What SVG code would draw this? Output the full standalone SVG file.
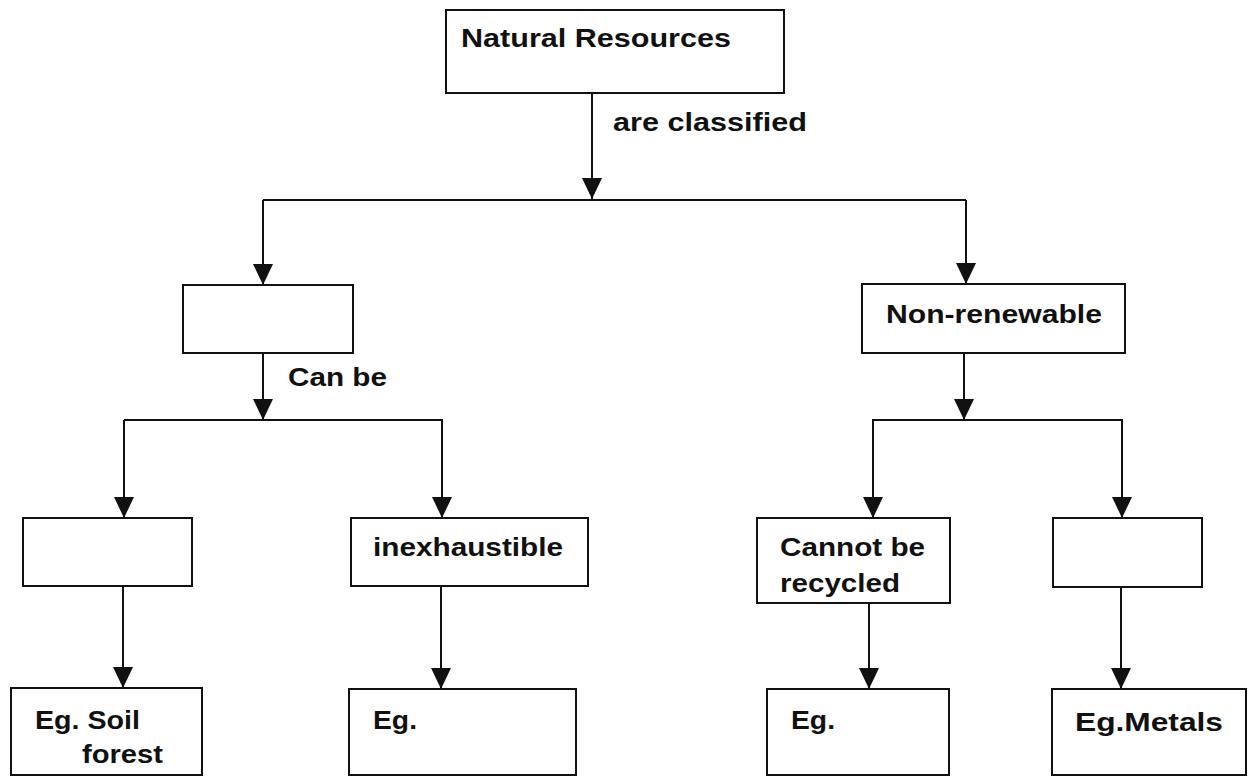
<svg xmlns="http://www.w3.org/2000/svg" width="1253" height="779" viewBox="0 0 1253 779">
<defs>
<marker id="arr" viewBox="0 0 21 20" refX="21" refY="10" markerWidth="21" markerHeight="20" markerUnits="userSpaceOnUse" orient="auto">
<path d="M0,0 L21,10 L0,20 z" fill="#111"/>
</marker>
</defs>
<style>
.box{fill:#fff;stroke:#111;stroke-width:2}
.t{font-family:"Liberation Sans",Arial,sans-serif;font-weight:bold;font-size:25px;fill:#111}
.c{fill:none;stroke:#111;stroke-width:2}
.a{fill:none;stroke:#111;stroke-width:2;marker-end:url(#arr)}
</style>
<rect width="1253" height="779" fill="#fff"/>
<g id="connectors">
<line class="a" x1="592" y1="93" x2="592" y2="199"/>
<polyline class="c" points="263,200 966,200"/>
<line class="a" x1="263" y1="200" x2="263" y2="285"/>
<line class="a" x1="966" y1="200" x2="966" y2="284"/>
<line class="a" x1="263" y1="353" x2="263" y2="420"/>
<polyline class="c" points="124,420 443,420"/>
<line class="a" x1="124" y1="420" x2="124" y2="518"/>
<line class="a" x1="442" y1="420" x2="442" y2="518"/>
<line class="a" x1="964" y1="353" x2="964" y2="420"/>
<polyline class="c" points="872,420 1123,420"/>
<line class="a" x1="873" y1="420" x2="873" y2="518"/>
<line class="a" x1="1122" y1="420" x2="1122" y2="518"/>
<line class="a" x1="123" y1="586" x2="123" y2="688"/>
<line class="a" x1="441" y1="586" x2="441" y2="689"/>
<line class="a" x1="869" y1="603" x2="869" y2="689"/>
<line class="a" x1="1121" y1="587" x2="1121" y2="689"/>
<text class="t" x="613" y="131" textLength="194" lengthAdjust="spacingAndGlyphs">are classified</text>
<text class="t" x="288" y="386" textLength="99" lengthAdjust="spacingAndGlyphs">Can be</text>
</g>
<g id="natural-resources">
<rect class="box" x="446" y="10" width="338" height="83"/>
<text class="t" x="461" y="47" textLength="270" lengthAdjust="spacingAndGlyphs">Natural Resources</text>
</g>
<g id="renewable">
<rect class="box" x="183" y="285" width="170" height="68"/>
</g>
<g id="non-renewable">
<rect class="box" x="862" y="284" width="263" height="69"/>
<text class="t" x="886" y="323" textLength="216" lengthAdjust="spacingAndGlyphs">Non-renewable</text>
</g>
<g id="exhaustible">
<rect class="box" x="23" y="518" width="169" height="68"/>
</g>
<g id="inexhaustible">
<rect class="box" x="351" y="518" width="237" height="68"/>
<text class="t" x="373" y="556" textLength="190" lengthAdjust="spacingAndGlyphs">inexhaustible</text>
</g>
<g id="cannot-be-recycled">
<rect class="box" x="757" y="518" width="193" height="85"/>
<text class="t" x="780" y="556" textLength="145" lengthAdjust="spacingAndGlyphs">Cannot be</text>
<text class="t" x="780" y="592" textLength="120" lengthAdjust="spacingAndGlyphs">recycled</text>
</g>
<g id="recyclable">
<rect class="box" x="1053" y="518" width="149" height="69"/>
</g>
<g id="eg-soil-forest">
<rect class="box" x="11" y="688" width="191" height="87"/>
<text class="t" x="35" y="729" textLength="105" lengthAdjust="spacingAndGlyphs">Eg. Soil</text>
<text class="t" x="82" y="763" textLength="81" lengthAdjust="spacingAndGlyphs">forest</text>
</g>
<g id="eg-inexhaustible">
<rect class="box" x="349" y="689" width="227" height="86"/>
<text class="t" x="373" y="729" textLength="44" lengthAdjust="spacingAndGlyphs">Eg.</text>
</g>
<g id="eg-non-recyclable">
<rect class="box" x="767" y="689" width="182" height="86"/>
<text class="t" x="791" y="729" textLength="44" lengthAdjust="spacingAndGlyphs">Eg.</text>
</g>
<g id="eg-metals">
<rect class="box" x="1052" y="689" width="194" height="86"/>
<text class="t" x="1075" y="731" textLength="148" lengthAdjust="spacingAndGlyphs">Eg.Metals</text>
</g>
</svg>
